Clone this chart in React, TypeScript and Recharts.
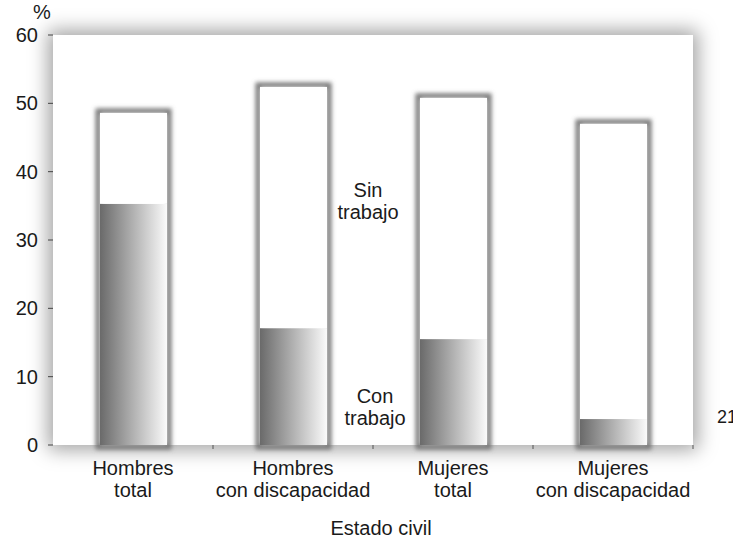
import { BarChart, Bar, XAxis, YAxis } from "recharts";

const categories = [
  ["Hombres", "total"],
  ["Hombres", "con discapacidad"],
  ["Mujeres", "total"],
  ["Mujeres", "con discapacidad"],
];
const conTrabajo = [35.3, 17.1, 15.5, 3.8];
const sinTrabajo = [13.3, 35.3, 35.3, 43.2];
const yTicks = [0, 10, 20, 30, 40, 50, 60];

const data = categories.map((c, i) => ({
  name: c.join(" "),
  con: conTrabajo[i],
  sin: sinTrabajo[i],
}));

const FONT = "'Liberation Sans', Arial, sans-serif";
const TEXT = "#1a1a1a";
const OUTLINE = "#777777";
const HALF_BAND = 80;

// bottom segment draws the blurred outline of the whole stacked bar, then its gradient fill
function ConShape(props: any) {
  const { x, y, width, height, payload } = props;
  if (!height || height <= 0) return null;
  const total = (height * (payload.con + payload.sin)) / payload.con;
  const top = y + height - total;
  return (
    <g>
      <rect
        x={x - 2}
        y={top - 2}
        width={width + 4}
        height={total + 4}
        fill="none"
        stroke={OUTLINE}
        strokeWidth={5}
        filter="url(#barBlur)"
      />
      <rect x={x} y={y} width={width} height={height} fill="url(#conGrad)" />
    </g>
  );
}

function SinShape(props: any) {
  const { x, y, width, height } = props;
  if (!height || height <= 0) return null;
  return <rect x={x} y={y} width={width} height={height} fill="#ffffff" />;
}

function CatTick(props: any) {
  const { x, y, index, payload } = props;
  const lines = categories[index] ?? [String(payload.value)];
  return (
    <g>
      <line x1={x + HALF_BAND} y1={y} x2={x + HALF_BAND} y2={y + 4} stroke="#555" />
      <text x={x} y={y} textAnchor="middle" fontSize={20} fontFamily={FONT} fill={TEXT}>
        <tspan x={x} dy={30}>{lines[0]}</tspan>
        <tspan x={x} dy={22}>{lines[1]}</tspan>
      </text>
    </g>
  );
}

export default function App() {
  return (
    <div style={{ position: "absolute", left: 0, top: 0, width: 733, height: 535, overflow: "hidden", background: "#fff" }}>
      <svg width={0} height={0} style={{ position: "absolute" }}>
        <defs>
          <linearGradient id="conGrad" x1="0" y1="0" x2="1" y2="0">
            <stop offset="0%" stopColor="#6a6a6a" />
            <stop offset="100%" stopColor="#fafafa" />
          </linearGradient>
          <filter id="barBlur" x="-20%" y="-20%" width="140%" height="140%">
            <feGaussianBlur stdDeviation="2" />
          </filter>
        </defs>
      </svg>
      <div
        style={{
          position: "absolute",
          left: 53,
          top: 35,
          width: 640,
          height: 410,
          background: "#fff",
          boxShadow: "0 0 18px 5px rgba(0,0,0,0.36)",
        }}
      />
      <div style={{ position: "absolute", left: 0, top: 0 }}>
        <BarChart width={733} height={535} data={data} margin={{ top: 35, right: 40, bottom: 30, left: 0 }} barSize={67}>
          <XAxis
            dataKey="name"
            height={60}
            axisLine={false}
            tickLine={false}
            tickSize={0}
            tickMargin={0}
            interval={0}
            tick={<CatTick />}
          />
          <YAxis
            width={53}
            domain={[0, 60]}
            ticks={yTicks}
            axisLine={false}
            tickSize={5}
            tickMargin={10}
            tickLine={{ stroke: "#444" }}
            tick={{ fontSize: 20, fontFamily: FONT, fill: TEXT }}
          />
          <Bar dataKey="con" stackId="a" isAnimationActive={false} shape={<ConShape />} />
          <Bar dataKey="sin" stackId="a" isAnimationActive={false} shape={<SinShape />} />
        </BarChart>
      </div>
      <svg width={733} height={535} style={{ position: "absolute", left: 0, top: 0, pointerEvents: "none" }}>
        <g fontFamily={FONT} fontSize={20} fill={TEXT}>
          <text x={42} y={19} textAnchor="middle">%</text>
          <text x={368} y={197} textAnchor="middle">Sin</text>
          <text x={368} y={219} textAnchor="middle">trabajo</text>
          <text x={375} y={403} textAnchor="middle">Con</text>
          <text x={375} y={425} textAnchor="middle">trabajo</text>
          <text x={717} y={423} fontSize={18}>21</text>
          <text x={381} y={535} textAnchor="middle">Estado civil</text>
        </g>
      </svg>
    </div>
  );
}
